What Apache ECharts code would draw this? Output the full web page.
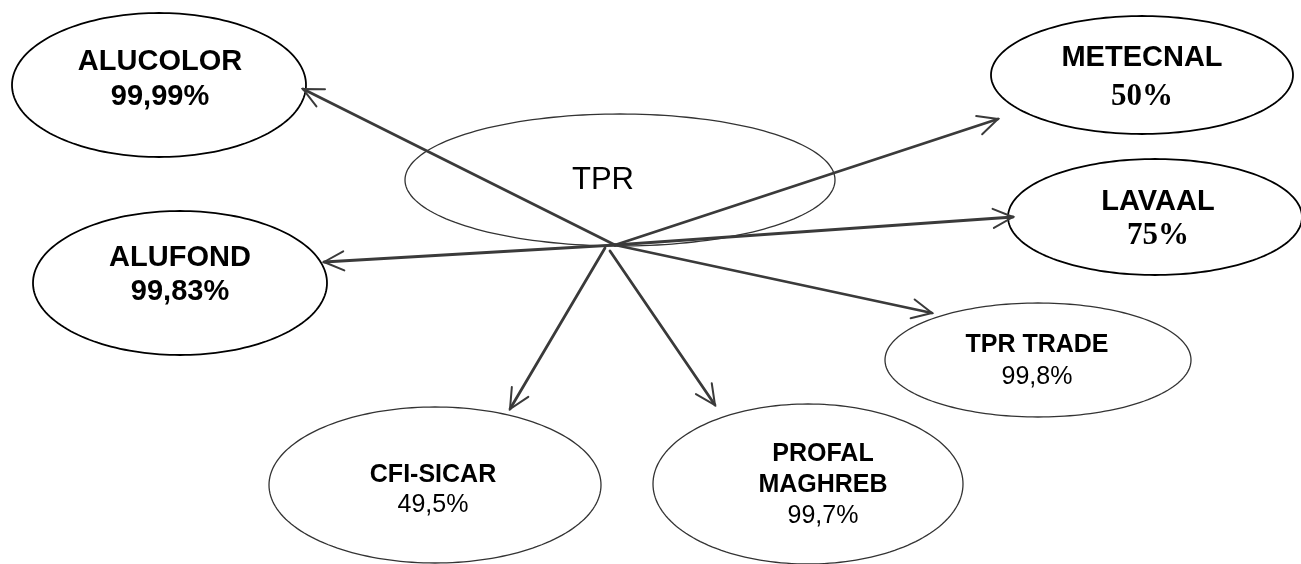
<!DOCTYPE html>
<html><head><meta charset="utf-8">
<script src="https://cdn.jsdelivr.net/npm/echarts@6/dist/echarts.min.js"></script>
<style>html,body{margin:0;padding:0;background:#fff}#c{width:1301px;height:564px}</style>
</head><body><div id="c"></div>
<script>
// Data
const parentName = "TPR";
const names = ["ALUCOLOR", "METECNAL", "LAVAAL", "ALUFOND", "TPR TRADE", "CFI-SICAR", "PROFAL\nMAGHREB"];
const shares = ["99,99%", "50%", "75%", "99,83%", "99,8%", "49,5%", "99,7%"];

// Layout (diagram placement, pixels)
const parentLayout = {cx: 620, cy: 180, rx: 215, ry: 66, tx: 603, ty: 180};
const nodeLayout = [
  {cx: 159, cy: 85, rx: 147, ry: 72, tx: 160, ty: 62, lh: 35, style: 'A'},
  {cx: 1142, cy: 75, rx: 151, ry: 59, tx: 1142, ty: 58, lh: 39, style: 'B'},
  {cx: 1155, cy: 217, rx: 147, ry: 58, tx: 1158, ty: 202, lh: 34, style: 'B'},
  {cx: 180, cy: 283, rx: 147, ry: 72, tx: 180, ty: 258, lh: 34, style: 'A'},
  {cx: 1038, cy: 360, rx: 153, ry: 57, tx: 1037, ty: 345, lh: 32, style: 'C'},
  {cx: 435, cy: 485, rx: 166, ry: 78, tx: 433, ty: 475, lh: 30, style: 'C'},
  {cx: 808, cy: 484, rx: 155, ry: 80, tx: 823, ty: 454, lh: 31, style: 'C'}
];
const arrowFrom = [[615,245],[615,245],[615,245],[615,245],[615,245],[605,248],[610,251]];
const arrowTo = [[303,89],[998,119],[1013,217],[324,262],[932,313],[510,409],[715,405]];

const chart = echarts.init(document.getElementById('c'), null, {renderer: 'canvas'});

function ellipsePts(api, cx, cy, rx, ry) {
  const pts = [];
  for (let i = 0; i < 180; i++) {
    const a = i / 180 * Math.PI * 2;
    pts.push(api.coord([cx + rx * Math.cos(a), cy + ry * Math.sin(a)]));
  }
  return pts;
}

const idx = names.map((n, i) => [i]);

chart.setOption({
  animation: false,
  grid: {left: 0, right: 0, top: 0, bottom: 0},
  xAxis: {type: 'value', min: 0, max: 1301, show: false},
  yAxis: {type: 'value', min: 0, max: 564, inverse: true, show: false},
  series: [
    {
      type: 'custom',
      z: 1,
      data: [[0]],
      renderItem: function (params, api) {
        const L = parentLayout;
        const p = api.coord([L.tx, L.ty]);
        return {type: 'group', children: [
          {type: 'polygon', shape: {points: ellipsePts(api, L.cx, L.cy, L.rx, L.ry)},
           style: {fill: '#fff', stroke: '#333', lineWidth: 1.3}},
          {type: 'text', x: p[0], y: p[1], style: {text: parentName, fill: '#000',
            font: '31px "Liberation Sans", Arial, sans-serif', align: 'center', verticalAlign: 'middle'}}
        ]};
      }
    },
    {
      type: 'custom',
      z: 2,
      data: idx,
      renderItem: function (params, api) {
        const i = api.value(0);
        const L = nodeLayout[i];
        const children = [];
        const thick = L.style !== 'C';
        children.push({type: 'polygon', shape: {points: ellipsePts(api, L.cx, L.cy, L.rx, L.ry)},
          style: {fill: '#fff', stroke: thick ? '#000' : '#333', lineWidth: thick ? 1.8 : 1.3}});
        const nameLines = names[i].split('\n');
        let fName, fPct;
        if (L.style === 'A') { fName = 'bold 29px "Liberation Sans", Arial, sans-serif'; fPct = fName; }
        else if (L.style === 'B') { fName = 'bold 29px "Liberation Sans", Arial, sans-serif'; fPct = 'bold 31px "Liberation Serif", "Times New Roman", serif'; }
        else { fName = 'bold 25px "Liberation Sans", Arial, sans-serif'; fPct = '25px "Liberation Sans", Arial, sans-serif'; }
        const lines = nameLines.map(t => ({t: t, f: fName})).concat([{t: shares[i], f: fPct}]);
        lines.forEach((ln, k) => {
          const p = api.coord([L.tx, L.ty + k * L.lh]);
          children.push({type: 'text', x: p[0], y: p[1], style: {text: ln.t, fill: '#000', font: ln.f,
            align: 'center', verticalAlign: 'middle'}});
        });
        return {type: 'group', children: children};
      }
    },
    {
      type: 'custom',
      z: 3,
      data: idx,
      renderItem: function (params, api) {
        const i = api.value(0);
        const a = api.coord(arrowFrom[i]);
        const b = api.coord(arrowTo[i]);
        const ang = Math.atan2(a[1] - b[1], a[0] - b[0]);
        const hl = 22, spread = 0.45;
        const h1 = [b[0] + hl * Math.cos(ang + spread), b[1] + hl * Math.sin(ang + spread)];
        const h2 = [b[0] + hl * Math.cos(ang - spread), b[1] + hl * Math.sin(ang - spread)];
        const st = {stroke: '#3a3a3a', lineWidth: 2.8, lineCap: 'round'};
        return {type: 'group', children: [
          {type: 'line', shape: {x1: a[0], y1: a[1], x2: b[0], y2: b[1]}, style: st},
          {type: 'polyline', shape: {points: [h1, b, h2]}, style: Object.assign({fill: null}, st, {lineWidth: 2})}
        ]};
      }
    }
  ]
});
</script>
</body></html>
